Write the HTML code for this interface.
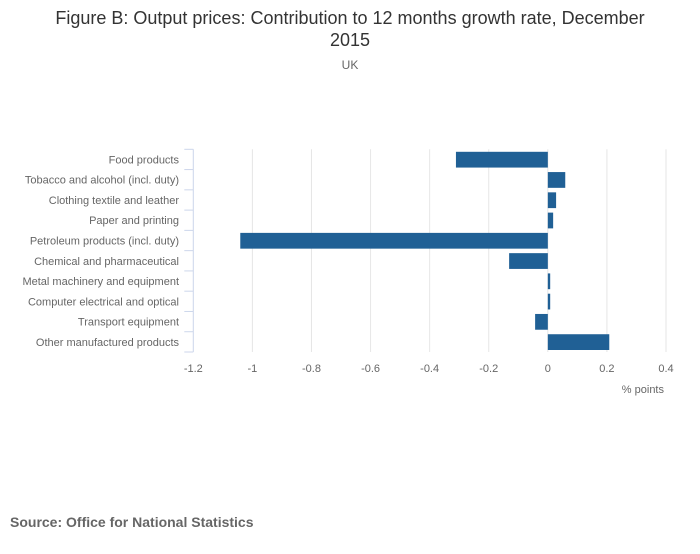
<!DOCTYPE html>
<html><head><meta charset="utf-8"><style>
body{margin:0;background:#fff;font-family:"Liberation Sans",sans-serif;}
svg text{font-family:"Liberation Sans",sans-serif;}
</style></head><body>
<svg width="700" height="549">
<text x="350" y="24" text-anchor="middle" font-size="18" fill="#333">Figure B: Output prices: Contribution to 12 months growth rate, December</text>
<text x="350" y="46" text-anchor="middle" font-size="18" fill="#333">2015</text>
<text x="350" y="69" text-anchor="middle" font-size="12" fill="#666">UK</text>
<g id="grid"></g><g id="bars"></g><g id="axes"></g>
<text x="664" y="393" text-anchor="end" font-size="11" fill="#666">% points</text>
<text x="10" y="527" font-size="14" font-weight="bold" fill="#666">Source: Office for National Statistics</text>
</svg>
<script>
const categories=["Food products","Tobacco and alcohol (incl. duty)","Clothing textile and leather","Paper and printing","Petroleum products (incl. duty)","Chemical and pharmaceutical","Metal machinery and equipment","Computer electrical and optical","Transport equipment","Other manufactured products"];
const values=[-0.311,0.059,0.028,0.018,-1.041,-0.131,0.008,0.008,-0.043,0.208];
const ticks=[-1.2,-1,-0.8,-0.6,-0.4,-0.2,0,0.2,0.4];
const tickLabels=["-1.2","-1","-0.8","-0.6","-0.4","-0.2","0","0.2","0.4"];
const NS="http://www.w3.org/2000/svg";
const x0=193.3,x1=666,vmin=-1.2,vmax=0.4,yTop=149.3,yBottom=352;
const band=(yBottom-yTop)/categories.length;
const xs=v=>x0+(v-vmin)/(vmax-vmin)*(x1-x0);
const ys=i=>yTop+i*band;
function mk(t,a,p){const e=document.createElementNS(NS,t);for(const k in a)e.setAttribute(k,a[k]);p.appendChild(e);return e;}
const grid=document.getElementById('grid'),bars=document.getElementById('bars'),axes=document.getElementById('axes');
ticks.forEach((t,i)=>{
 if(i>0){const l=mk('line',{x1:xs(t),x2:xs(t),y1:yTop,y2:yBottom,stroke:'#e6e6e6','stroke-width':1},grid);
 
 }
 const tx=mk('text',{x:xs(t),y:372,'text-anchor':'middle','font-size':11,fill:'#666'},axes);
 tx.textContent=tickLabels[i];
 
 
});
const al=mk('line',{x1:x0,x2:x0,y1:yTop,y2:yBottom,stroke:'#ccd6eb','stroke-width':1},axes);


for(let i=0;i<=categories.length;i++){
 const tk=mk('line',{x1:x0-9,x2:x0,y1:ys(i),y2:ys(i),stroke:'#ccd6eb','stroke-width':1},axes);
 
 
}
categories.forEach((c,i)=>{
 const v=values[i];
 const r=mk('rect',{x:Math.min(xs(v),xs(0)),y:ys(i)+2.5,width:Math.abs(xs(v)-xs(0)),height:band-4.5,fill:'#206095'},bars);
 
 
 const t=mk('text',{x:179,y:ys(i)+band/2+4,'text-anchor':'end','font-size':11,fill:'#666'},axes);
 t.textContent=c;
 
 
});
</script>
</body></html>
